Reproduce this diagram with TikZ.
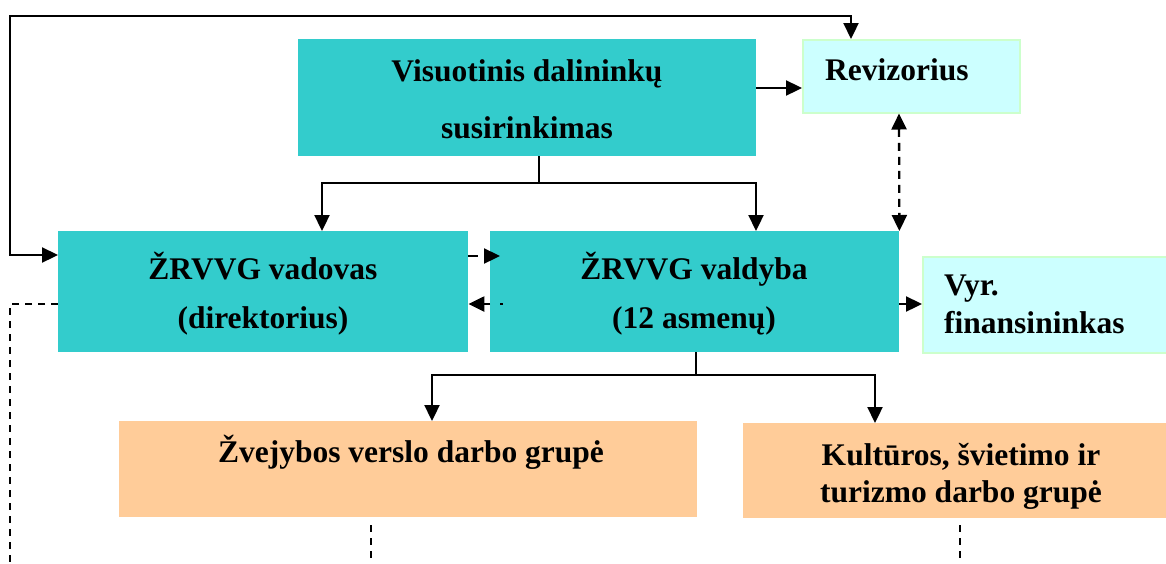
\documentclass[tikz,border=0pt]{standalone}
\usepackage{fontspec}
\setmainfont{Liberation Serif}
\usetikzlibrary{arrows.meta,calc}
\definecolor{tealbg}{HTML}{33CCCC}
\definecolor{lightcyan}{HTML}{CCFFFF}
\definecolor{lightgreen}{HTML}{CCFFCC}
\definecolor{peach}{HTML}{FFCC99}
\tikzset{
  tealbox/.style={fill=tealbg, draw=none, inner sep=0pt, anchor=north west},
  cyanbox/.style={fill=lightcyan, draw=lightgreen, line width=1.5pt, inner sep=0pt, anchor=north west},
  peachbox/.style={fill=peach, draw=none, inner sep=0pt, anchor=north west},
  txt/.style={font=\bfseries\fontsize{31.5}{38}\selectfont, inner sep=0pt, anchor=base},
  ltxt/.style={txt, anchor=base west},
  tip/.tip={Triangle[length=16pt,width=15pt]},
  conn/.style={line width=2.3pt, -tip},
  plain/.style={line width=2.3pt},
  ddconn/.style={line width=2.3pt, dash pattern=on 8pt off 6pt, tip-tip},
  dline/.style={line width=2.2pt, dash pattern=on 7pt off 6pt},
}
\begin{document}
\begin{tikzpicture}[x=1pt,y=-1pt]
\useasboundingbox (0,0) rectangle (1166,563);
\fill[white] (0,0) rectangle (1166,563);

% boxes
\node[tealbox, minimum width=458pt, minimum height=117pt] (vis) at (298,39) {};
\node[cyanbox, minimum width=217pt, minimum height=73pt] (rev) at (802,39) {};
\node[tealbox, minimum width=410pt, minimum height=121pt] (vad) at (58,231) {};
\node[tealbox, minimum width=409pt, minimum height=121pt] (val) at (490,231) {};
\node[cyanbox, minimum width=250pt, minimum height=96pt] (vyr) at (922,256) {};
\node[peachbox, minimum width=578pt, minimum height=96pt] (zv) at (119,421) {};
\node[peachbox, minimum width=430pt, minimum height=95pt] (ku) at (743,423) {};

% texts
\node[txt] (t1) at (527,81) {Visuotinis dalininkų};
\node[txt] (t2) at (527,138) {susirinkimas};
\node[ltxt] (t3) at (825,80) {Revizorius};
\node[txt] (t4) at (263,279) {ŽRVVG vadovas};
\node[txt] (t5) at (263,328) {(direktorius)};
\node[txt] (t6) at (694,279) {ŽRVVG valdyba};
\node[txt] (t7) at (694,328) {(12 asmenų)};
\node[ltxt] (t8) at (944,295) {Vyr.};
\node[ltxt] (t9) at (944,333) {finansininkas};
\node[txt] (t10) at (411,462) {Žvejybos verslo darbo grupė};
\node[txt] (t11) at (961,465) {Kultūros, švietimo ir};
\node[txt] (t12) at (961,502) {turizmo darbo grupė};

% coordinates
\coordinate (loopL) at (10,16);
\coordinate (loopR) at (851,16);
\coordinate (visJ) at (539,183);
\coordinate (valJ) at (696,375);
\coordinate (dL) at (10,563);
\coordinate (dZtop) at (371,525);
\coordinate (dZbot) at (371,563);
\coordinate (dKtop) at (960,525);
\coordinate (dKbot) at (960,563);

% top loop
\draw[plain, tip-tip] (vad.west |- 0,255) -| (loopL) -- (loopR) -- (rev.north -| loopR);

% vis -> rev
\draw[conn] (vis.east |- 0,88) -- (rev.west |- 0,88);

% vis -> vad, val
\draw[plain] (vis.south -| visJ) -- (visJ);
\draw[conn] (visJ) -| (vad.north -| 322,0);
\draw[conn] (visJ) -| (val.north -| 756,0);

% rev <-> val dashed
\draw[ddconn] (rev.south -| 899,0) -- (val.north east);

% vad <-> val dashed
\draw[line width=2.3pt] (vad.east |- 0,256) -- ++(10,0);
\draw[line width=2.3pt, -tip] (485,256) -- (val.west |- 0,256) -- ++(10,0);
\draw[line width=2.3pt] (val.west |- 0,304) ++(10,0) -- ++(3,0);
\draw[line width=2.3pt, -tip] (val.west |- 0,304) -- (vad.east |- 0,304);

% val -> vyr
\draw[conn] (val.east |- 0,304) -- (vyr.west |- 0,304);

% val -> groups
\draw[plain] (val.south -| valJ) -- (valJ);
\draw[conn] (valJ) -| (zv.north -| 432,0);
\draw[conn] (valJ) -| (ku.north -| 875,0);

% dashed lines downward
\draw[dline] (vad.west |- 0,304) -| (dL);
\draw[dline] (dZtop) -- (dZbot);
\draw[dline] (dKtop) -- (dKbot);
\end{tikzpicture}
\end{document}
